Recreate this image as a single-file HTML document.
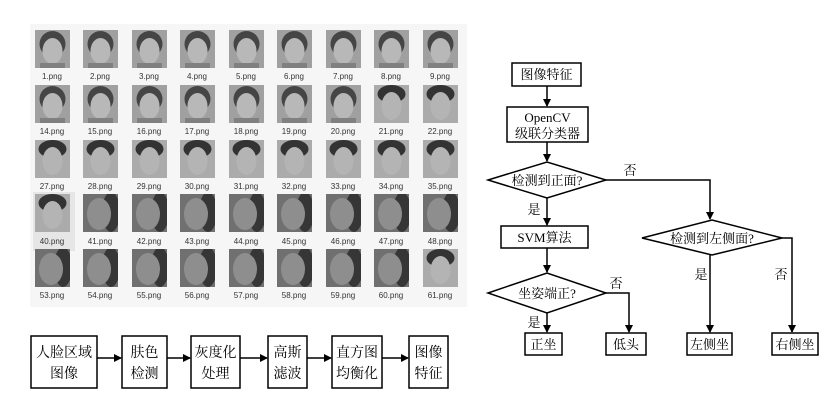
<!DOCTYPE html>
<html><head><meta charset="utf-8"><style>
body{margin:0;background:#fff;}
svg{display:block;}
text{font-family:"Liberation Serif","Noto Serif CJK SC",serif;fill:#000;}
.l{font-family:"Liberation Sans",sans-serif;font-size:8px;fill:#333;text-anchor:middle;}
.c{font-size:13px;text-anchor:middle;}
</style></head><body>
<svg width="832" height="414" viewBox="0 0 832 414" xmlns="http://www.w3.org/2000/svg">
<defs>
<clipPath id="cp"><rect width="35" height="38"/></clipPath>
<g id="fa" clip-path="url(#cp)">
<rect width="35" height="38" fill="#a0a0a0"/>
<ellipse cx="17.5" cy="14" rx="13" ry="13" fill="#454545"/>
<ellipse cx="17.5" cy="21" rx="10" ry="13" fill="#b8b8b8"/>
<rect x="5" y="33" width="25" height="5" fill="#808080"/>
</g>
<g id="fb" clip-path="url(#cp)">
<rect width="35" height="38" fill="#ababab"/>
<ellipse cx="17.5" cy="9" rx="14" ry="9" fill="#333"/>
<ellipse cx="17.5" cy="21" rx="10" ry="14" fill="#b4b4b4"/>
</g>
<g id="fc" clip-path="url(#cp)">
<rect width="35" height="38" fill="#707070"/>
<ellipse cx="28" cy="18" rx="9" ry="20" fill="#363636"/>
<ellipse cx="16" cy="20" rx="12" ry="16" fill="#8e8e8e"/>
</g>
<marker id="ar" markerWidth="8" markerHeight="8" refX="7" refY="4" orient="auto" markerUnits="userSpaceOnUse"><path d="M0,0 L8,4 L0,8 z" fill="#000"/></marker>
</defs>
<rect x="30" y="24" width="437" height="283" fill="#f6f6f6"/>
<rect x="33" y="192" width="42" height="59" fill="#e6e6e6"/>
<g>
<use href="#fa" x="35" y="30"/><use href="#fa" x="83" y="30"/><use href="#fa" x="132" y="30"/><use href="#fa" x="180" y="30"/><use href="#fa" x="229" y="30"/><use href="#fa" x="277" y="30"/><use href="#fa" x="326" y="30"/><use href="#fa" x="374" y="30"/><use href="#fa" x="423" y="30"/>
<use href="#fa" x="35" y="85"/><use href="#fa" x="83" y="85"/><use href="#fa" x="132" y="85"/><use href="#fa" x="180" y="85"/><use href="#fa" x="229" y="85"/><use href="#fa" x="277" y="85"/><use href="#fa" x="326" y="85"/><use href="#fb" x="374" y="85"/><use href="#fb" x="423" y="85"/>
<use href="#fb" x="35" y="140"/><use href="#fb" x="83" y="140"/><use href="#fb" x="132" y="140"/><use href="#fb" x="180" y="140"/><use href="#fb" x="229" y="140"/><use href="#fb" x="277" y="140"/><use href="#fb" x="326" y="140"/><use href="#fb" x="374" y="140"/><use href="#fb" x="423" y="140"/>
<use href="#fb" x="35" y="194"/><use href="#fc" x="83" y="194"/><use href="#fc" x="132" y="194"/><use href="#fc" x="180" y="194"/><use href="#fc" x="229" y="194"/><use href="#fc" x="277" y="194"/><use href="#fc" x="326" y="194"/><use href="#fc" x="374" y="194"/><use href="#fc" x="423" y="194"/>
<use href="#fc" x="35" y="249"/><use href="#fc" x="83" y="249"/><use href="#fc" x="132" y="249"/><use href="#fc" x="180" y="249"/><use href="#fc" x="229" y="249"/><use href="#fc" x="277" y="249"/><use href="#fc" x="326" y="249"/><use href="#fc" x="374" y="249"/><use href="#fb" x="423" y="249"/>
</g>
<g>
<text class="l" x="52" y="79">1.png</text><text class="l" x="100" y="79">2.png</text><text class="l" x="149" y="79">3.png</text><text class="l" x="197" y="79">4.png</text><text class="l" x="246" y="79">5.png</text><text class="l" x="294" y="79">6.png</text><text class="l" x="343" y="79">7.png</text><text class="l" x="391" y="79">8.png</text><text class="l" x="440" y="79">9.png</text>
<text class="l" x="52" y="134">14.png</text><text class="l" x="100" y="134">15.png</text><text class="l" x="149" y="134">16.png</text><text class="l" x="197" y="134">17.png</text><text class="l" x="246" y="134">18.png</text><text class="l" x="294" y="134">19.png</text><text class="l" x="343" y="134">20.png</text><text class="l" x="391" y="134">21.png</text><text class="l" x="440" y="134">22.png</text>
<text class="l" x="52" y="189">27.png</text><text class="l" x="100" y="189">28.png</text><text class="l" x="149" y="189">29.png</text><text class="l" x="197" y="189">30.png</text><text class="l" x="246" y="189">31.png</text><text class="l" x="294" y="189">32.png</text><text class="l" x="343" y="189">33.png</text><text class="l" x="391" y="189">34.png</text><text class="l" x="440" y="189">35.png</text>
<text class="l" x="52" y="244">40.png</text><text class="l" x="100" y="244">41.png</text><text class="l" x="149" y="244">42.png</text><text class="l" x="197" y="244">43.png</text><text class="l" x="246" y="244">44.png</text><text class="l" x="294" y="244">45.png</text><text class="l" x="343" y="244">46.png</text><text class="l" x="391" y="244">47.png</text><text class="l" x="440" y="244">48.png</text>
<text class="l" x="52" y="298">53.png</text><text class="l" x="100" y="298">54.png</text><text class="l" x="149" y="298">55.png</text><text class="l" x="197" y="298">56.png</text><text class="l" x="246" y="298">57.png</text><text class="l" x="294" y="298">58.png</text><text class="l" x="343" y="298">59.png</text><text class="l" x="391" y="298">60.png</text><text class="l" x="440" y="298">61.png</text>
</g>
<g fill="#fff" stroke="#000" stroke-width="1.5">
<rect x="31" y="336" width="66" height="52"/><rect x="122" y="336" width="45" height="52"/><rect x="191" y="336" width="49" height="52"/><rect x="268" y="336" width="39" height="52"/><rect x="332" y="336" width="50" height="52"/><rect x="409" y="336" width="39" height="52"/>
</g>
<g stroke="#000" stroke-width="1.5" marker-end="url(#ar)">
<line x1="97" y1="358" x2="121" y2="358"/><line x1="167" y1="358" x2="190" y2="358"/><line x1="240" y1="358" x2="267" y2="358"/><line x1="307" y1="358" x2="331" y2="358"/><line x1="382" y1="358" x2="408" y2="358"/>
</g>
<g>
<text class="c" style="font-size:14px" x="64" y="357">人脸区域</text><text class="c" style="font-size:14px" x="64" y="378">图像</text>
<text class="c" style="font-size:14px" x="144.5" y="357">肤色</text><text class="c" style="font-size:14px" x="144.5" y="378">检测</text>
<text class="c" style="font-size:14px" x="215.5" y="357">灰度化</text><text class="c" style="font-size:14px" x="215.5" y="378">处理</text>
<text class="c" style="font-size:14px" x="287.5" y="357">高斯</text><text class="c" style="font-size:14px" x="287.5" y="378">滤波</text>
<text class="c" style="font-size:14px" x="357" y="357">直方图</text><text class="c" style="font-size:14px" x="357" y="378">均衡化</text>
<text class="c" style="font-size:14px" x="428.5" y="357">图像</text><text class="c" style="font-size:14px" x="428.5" y="378">特征</text>
</g>
<g fill="#fff" stroke="#000" stroke-width="1.5">
<rect x="512" y="63" width="69" height="23"/>
<rect x="507" y="107" width="81" height="35"/>
<polygon points="488,180 547,162 606,180 547,198"/>
<rect x="501" y="226" width="87" height="22"/>
<polygon points="488,293 547,273 606,293 547,313"/>
<rect x="525" y="333" width="37" height="22"/>
<rect x="606" y="333" width="40" height="22"/>
<polygon points="642,238 712,220 782,238 712,255"/>
<rect x="687" y="333" width="45" height="22"/>
<rect x="772" y="333" width="46" height="22"/>
</g>
<g stroke="#000" stroke-width="1.5" fill="none" marker-end="url(#ar)">
<line x1="547" y1="86" x2="547" y2="106"/>
<line x1="547" y1="142" x2="547" y2="161"/>
<line x1="547" y1="198" x2="547" y2="225"/>
<line x1="547" y1="248" x2="547" y2="272"/>
<line x1="547" y1="313" x2="547" y2="332"/>
<polyline points="606,180 710,180 710,219"/>
<polyline points="606,293 629,293 629,332"/>
<line x1="710" y1="255" x2="710" y2="332"/>
<polyline points="782,238 792,238 792,332"/>
</g>
<text class="c" x="546.5" y="79">图像特征</text>
<text class="c" x="547.5" y="122">OpenCV</text>
<text class="c" x="547.5" y="138">级联分类器</text>
<text class="c" x="547" y="185">检测到正面?</text>
<text class="c" x="544.5" y="242">SVM算法</text>
<text class="c" x="547" y="298">坐姿端正?</text>
<text class="c" x="543.5" y="349">正坐</text>
<text class="c" x="626" y="349">低头</text>
<text class="c" x="712" y="243">检测到左侧面?</text>
<text class="c" x="709.5" y="349">左侧坐</text>
<text class="c" x="795" y="349">右侧坐</text>
<text class="c" x="630" y="175">否</text>
<text class="c" x="534" y="214">是</text>
<text class="c" x="616" y="288">否</text>
<text class="c" x="534" y="327">是</text>
<text class="c" x="701" y="279">是</text>
<text class="c" x="781" y="279">否</text>
</svg>
</body></html>
